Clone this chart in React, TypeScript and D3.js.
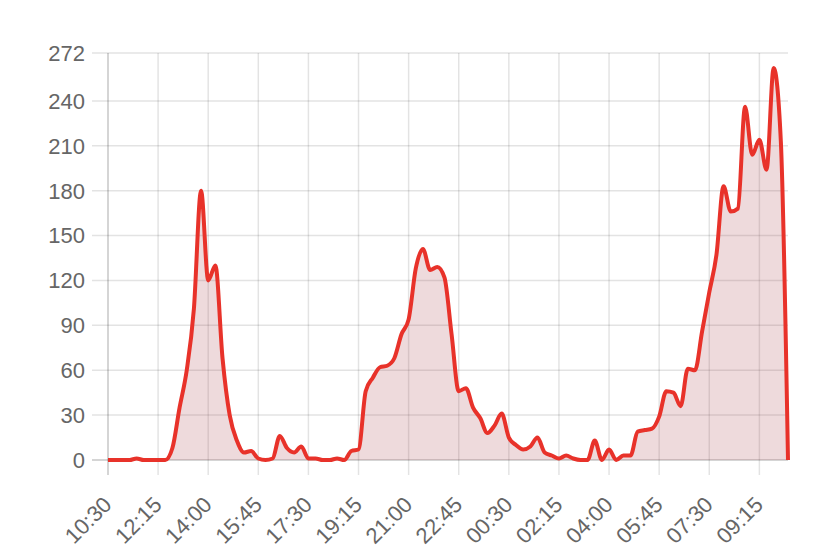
import { useEffect, useRef } from "react";
import * as d3 from "d3";

// 15-minute buckets over one day
const times = [
  "10:30", "10:45", "11:00", "11:15", "11:30", "11:45", "12:00", "12:15",
  "12:30", "12:45", "13:00", "13:15", "13:30", "13:45", "14:00", "14:15",
  "14:30", "14:45", "15:00", "15:15", "15:30", "15:45", "16:00", "16:15",
  "16:30", "16:45", "17:00", "17:15", "17:30", "17:45", "18:00", "18:15",
  "18:30", "18:45", "19:00", "19:15", "19:30", "19:45", "20:00", "20:15",
  "20:30", "20:45", "21:00", "21:15", "21:30", "21:45", "22:00", "22:15",
  "22:30", "22:45", "23:00", "23:15", "23:30", "23:45", "00:00", "00:15",
  "00:30", "00:45", "01:00", "01:15", "01:30", "01:45", "02:00", "02:15",
  "02:30", "02:45", "03:00", "03:15", "03:30", "03:45", "04:00", "04:15",
  "04:30", "04:45", "05:00", "05:15", "05:30", "05:45", "06:00", "06:15",
  "06:30", "06:45", "07:00", "07:15", "07:30", "07:45", "08:00", "08:15",
  "08:30", "08:45", "09:00", "09:15", "09:30", "09:45", "10:00", "10:15",
];

const counts = [
  0, 0, 0, 0, 1, 0, 0, 0,
  0, 8, 35, 60, 101, 180, 120, 130,
  68, 30, 13, 5, 6, 1, 0, 1,
  16, 8, 5, 9, 1, 1, 0, 0,
  1, 0, 6, 7, 46, 55, 62, 63,
  68, 84, 94, 128, 141, 127, 129, 122,
  84, 46, 48, 35, 28, 18, 23, 31,
  15, 10, 7, 9, 15, 5, 3, 1,
  3, 1, 0, 0, 13, 0, 7, 0,
  3, 3, 19, 20, 21, 29, 46, 45,
  36, 61, 60, 86, 112, 137, 183, 166,
  168, 236, 204, 214, 194, 262, 213, 0,
];

const yTicks = [0, 30, 60, 90, 120, 150, 180, 210, 240, 272];
const labelEvery = 7;

export default function App() {
  const svgRef = useRef<SVGSVGElement>(null);

  useEffect(() => {
    if (!svgRef.current) return;
    const svg = d3.select(svgRef.current);
    svg.selectAll("*").remove();

    const left = 108, right = 788, top = 53, bottom = 460;
    const font = "'Liberation Sans', Arial, Helvetica, sans-serif";

    const x = d3.scalePoint<string>().domain(times).range([left, right]);
    const y = d3.scaleLinear().domain([0, 272]).range([bottom, top]);

    // horizontal grid
    svg.append("g")
      .selectAll("line")
      .data(yTicks)
      .enter()
      .append("line")
      .attr("x1", left - 16)
      .attr("x2", right)
      .attr("y1", d => y(d))
      .attr("y2", d => y(d))
      .attr("stroke", d => (d === 0 ? "rgba(0,0,0,0.22)" : "rgba(0,0,0,0.11)"))
      .attr("stroke-width", 1.5);

    // vertical grid (only at labelled ticks)
    const shown = times.filter((_, i) => i % labelEvery === 0);
    svg.append("g")
      .selectAll("line")
      .data(shown)
      .enter()
      .append("line")
      .attr("x1", d => x(d)!)
      .attr("x2", d => x(d)!)
      .attr("y1", top)
      .attr("y2", bottom + 15)
      .attr("stroke", (_, i) => (i === 0 ? "rgba(0,0,0,0.22)" : "rgba(0,0,0,0.11)"))
      .attr("stroke-width", 1.5);

    // y labels
    svg.append("g")
      .selectAll("text")
      .data(yTicks)
      .enter()
      .append("text")
      .attr("x", 85)
      .attr("y", d => y(d))
      .attr("dy", "0.36em")
      .attr("text-anchor", "end")
      .attr("font-family", font)
      .attr("font-size", 22)
      .attr("fill", "#666")
      .text(d => d);

    // x labels, rotated
    svg.append("g")
      .selectAll("text")
      .data(shown)
      .enter()
      .append("text")
      .attr("transform", d => `translate(${x(d)! + 5},${bottom + 46}) rotate(-45)`)
      .attr("text-anchor", "end")
      .attr("font-family", font)
      .attr("font-size", 22)
      .attr("fill", "#666")
      .text(d => d);

    const data = times.map((t, i) => ({ t, v: counts[i] }));

    const area = d3.area<{ t: string; v: number }>()
      .x(d => x(d.t)!)
      .y0(bottom)
      .y1(d => y(d.v))
      .curve(d3.curveMonotoneX);

    svg.append("path")
      .datum(data)
      .attr("fill", "rgba(170,70,80,0.2)")
      .attr("d", area);

    const line = d3.line<{ t: string; v: number }>()
      .x(d => x(d.t)!)
      .y(d => y(d.v))
      .curve(d3.curveMonotoneX);

    svg.append("path")
      .datum(data)
      .attr("fill", "none")
      .attr("stroke", "#e8322a")
      .attr("stroke-width", 4)
      .attr("stroke-linejoin", "round")
      .attr("d", line);
  }, []);

  return (
    <svg
      ref={svgRef}
      width={828}
      height={547}
      style={{ position: "absolute", left: 0, top: 0, background: "#fff" }}
    />
  );
}
